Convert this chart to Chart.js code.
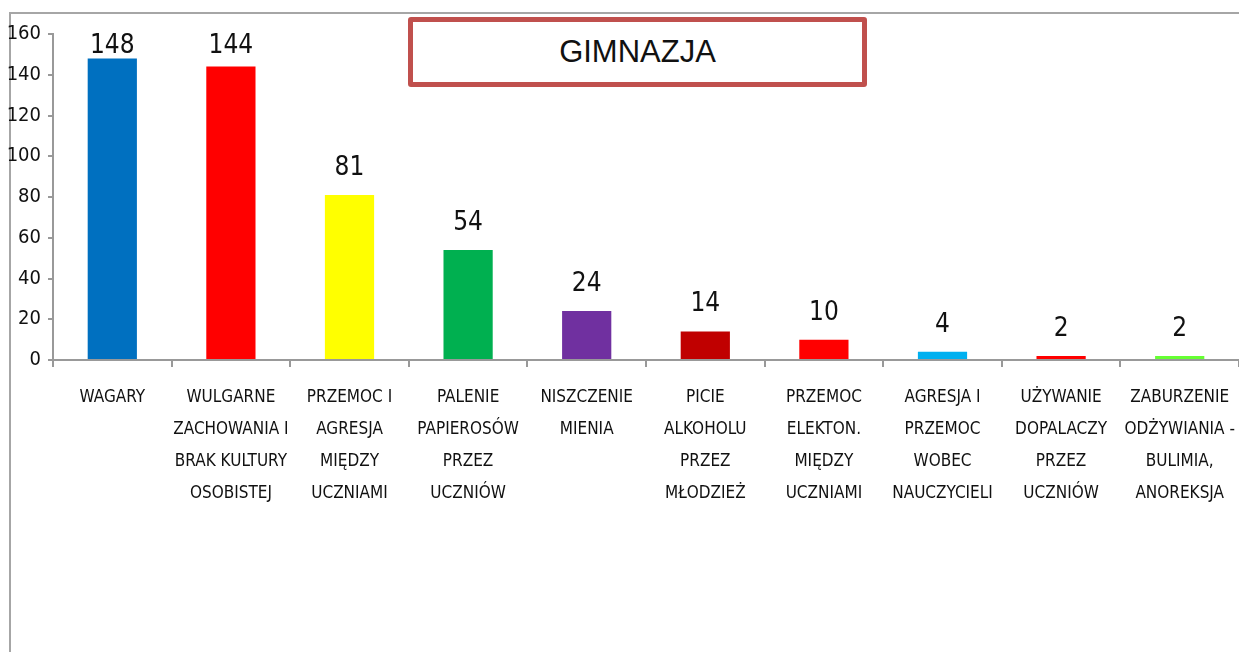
<!DOCTYPE html>
<html lang="pl">
<head>
<meta charset="utf-8">
<title>GIMNAZJA</title>
<script src="https://cdn.jsdelivr.net/npm/chart.js@4.4.1/dist/chart.umd.min.js"></script>
<style>
  html, body { margin: 0; padding: 0; background: #fff; overflow: hidden; }
  #wrap { position: relative; width: 1239px; height: 652px; }
  #frame {
    position: absolute; left: 9px; top: 12px; right: 0; bottom: 0;
    border-left: 2px solid #a6a6a6; border-top: 2px solid #a6a6a6;
  }
  #chart { position: absolute; left: 0; top: 0; }
  #title-box {
    position: absolute; left: 408px; top: 17px; width: 449px; height: 60px;
    border: 5px solid #c0504d; border-radius: 3px; background: #fff;
    font-family: "Liberation Sans", Arial, sans-serif; font-size: 31px;
    line-height: 60px; text-align: center; color: #111;
  }
</style>
</head>
<body>
<div id="wrap">
  <div id="frame"></div>
  <canvas id="chart" width="1239" height="652"></canvas>
  <div id="title-box">GIMNAZJA</div>
</div>
<script>
// categories (each label split into lines like in the original)
const categories = [
  ["WAGARY"],
  ["WULGARNE", "ZACHOWANIA I", "BRAK KULTURY", "OSOBISTEJ"],
  ["PRZEMOC I", "AGRESJA", "MIĘDZY", "UCZNIAMI"],
  ["PALENIE", "PAPIEROSÓW", "PRZEZ", "UCZNIÓW"],
  ["NISZCZENIE", "MIENIA"],
  ["PICIE", "ALKOHOLU", "PRZEZ", "MŁODZIEŻ"],
  ["PRZEMOC", "ELEKTON.", "MIĘDZY", "UCZNIAMI"],
  ["AGRESJA I", "PRZEMOC", "WOBEC", "NAUCZYCIELI"],
  ["UŻYWANIE", "DOPALACZY", "PRZEZ", "UCZNIÓW"],
  ["ZABURZENIE", "ODŻYWIANIA -", "BULIMIA,", "ANOREKSJA"]
];
const values = [148, 144, 81, 54, 24, 14, 10, 4, 2, 2];
const barColors = ["#0070c0", "#ff0000", "#ffff00", "#00b050", "#7030a0",
                   "#c00000", "#ff0000", "#00b0f0", "#ff0000", "#66ff33"];
const yTicks = [0, 20, 40, 60, 80, 100, 120, 140, 160];

const narrow = '"Liberation Sans Narrow", "DejaVu Sans Condensed", Arial, sans-serif';

// value labels above the bars
const valueLabels = {
  id: "valueLabels",
  afterDatasetsDraw(chart) {
    const ctx = chart.ctx;
    const meta = chart.getDatasetMeta(0);
    ctx.save();
    ctx.font = "26px " + narrow;
    ctx.fillStyle = "#111";
    ctx.textAlign = "center";
    ctx.textBaseline = "alphabetic";
    meta.data.forEach((bar, i) => {
      const y = Math.max(bar.y - 20, 53);
      ctx.fillText(String(values[i]), bar.x, y);
    });
    ctx.restore();
  }
};

new Chart(document.getElementById("chart").getContext("2d"), {
  type: "bar",
  data: {
    labels: categories,
    datasets: [{
      data: values,
      backgroundColor: barColors,
      borderWidth: 0,
      barPercentage: 0.83,
      categoryPercentage: 0.5
    }]
  },
  options: {
    responsive: false,
    animation: false,
    layout: { padding: { top: 34, left: 0, right: 0, bottom: 0 } },
    plugins: {
      legend: { display: false },
      tooltip: { enabled: false },
      title: { display: false }
    },
    scales: {
      x: {
        grid: { offset: true, drawOnChartArea: false, tickLength: 7, color: "#999", lineWidth: 2 },
        border: { color: "#999", width: 2 },
        ticks: {
          autoSkip: false, maxRotation: 0, minRotation: 0, padding: 15,
          color: "#111",
          font: { family: narrow, size: 17, lineHeight: 1.88 }
        },
        afterFit(scale) {
          scale.height = 292;
          scale.paddingLeft = 0;
          scale.paddingRight = 0;
        }
      },
      y: {
        min: 0, max: 160,
        afterBuildTicks(scale) { scale.ticks = yTicks.map(v => ({ value: v })); },
        grid: { drawOnChartArea: false, tickLength: 5, color: "#999", lineWidth: 2 },
        border: { color: "#999", width: 2 },
        ticks: {
          padding: 7, color: "#111",
          font: { family: narrow, size: 20 }
        },
        afterFit(scale) { scale.width = 53; }
      }
    }
  },
  plugins: [valueLabels]
});
</script>
</body>
</html>
